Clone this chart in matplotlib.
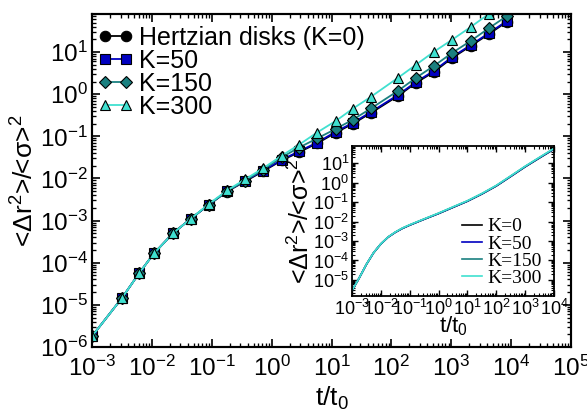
import matplotlib
matplotlib.use('Agg')
import matplotlib.pyplot as plt
from matplotlib.ticker import LogLocator, NullFormatter

plt.rcParams['font.family'] = ['Liberation Sans', 'DejaVu Sans']
plt.rcParams['mathtext.fontset'] = 'custom'
plt.rcParams['mathtext.rm'] = 'Liberation Sans'
plt.rcParams['mathtext.it'] = 'Liberation Sans:italic'
plt.rcParams['mathtext.bf'] = 'Liberation Sans:bold'

# main panel: simulation points
t = [0.001, 0.00316, 0.0061, 0.0108, 0.0225, 0.045, 0.090, 0.180, 0.359, 0.718,
     1.49, 2.86, 5.73, 11.9, 22.9, 45.7, 129, 258, 515, 1028, 2138, 4266, 8531]
msd_k0 = [1.8e-6, 1.45e-5, 5.6e-5, 1.66e-4, 5.0e-4, 1.12e-3, 2.4e-3, 4.9e-3, 8.5e-3, 1.48e-2,
          2.7e-2, 4.2e-2, 6.8e-2, 0.123, 0.20, 0.36, 0.91, 1.86, 3.4, 7.2, 14.1, 26.9, 52.5]
msd_k50 = [1.8e-6, 1.45e-5, 5.6e-5, 1.66e-4, 5.0e-4, 1.12e-3, 2.4e-3, 5.0e-3, 8.8e-3, 1.53e-2,
           2.8e-2, 4.4e-2, 7.1e-2, 0.13, 0.21, 0.38, 0.96, 1.95, 3.6, 7.6, 14.8, 28.3, 55]
msd_k150 = [1.8e-6, 1.45e-5, 5.6e-5, 1.66e-4, 5.0e-4, 1.12e-3, 2.4e-3, 5.0e-3, 8.9e-3, 1.62e-2,
            3.2e-2, 5.4e-2, 8.9e-2, 0.151, 0.25, 0.46, 1.20, 2.45, 4.7, 9.5, 18.6, 37, 72]
msd_k300 = [1.8e-6, 1.45e-5, 5.6e-5, 1.66e-4, 5.0e-4, 1.12e-3, 2.5e-3, 5.2e-3, 9.5e-3, 1.74e-2,
            3.5e-2, 6.3e-2, 0.123, 0.234, 0.457, 0.87, 2.45, 5.0, 10.2, 19.5, 39.8, 81, 162]

# inset: continuous curves
inset_t = [1e-3, 1.78e-3, 3.16e-3, 5.62e-3, 1e-2, 1.78e-2, 3.16e-2, 5.62e-2, 0.1, 0.316,
           1, 3.16, 10, 31.6, 100, 316, 1000, 3160, 10000]
inset_k0 = [2.8e-6, 1.26e-5, 6.3e-5, 2.5e-4, 7.1e-4, 1.58e-3, 2.8e-3, 4.5e-3, 6.6e-3, 1.32e-2,
            2.6e-2, 5.4e-2, 0.112, 0.263, 0.68, 2.1, 6.6, 19, 54]
inset_k50 = [2.8e-6, 1.26e-5, 6.3e-5, 2.5e-4, 7.1e-4, 1.58e-3, 2.8e-3, 4.5e-3, 6.6e-3, 1.33e-2,
             2.62e-2, 5.45e-2, 0.113, 0.266, 0.69, 2.13, 6.7, 19.4, 55]
inset_k150 = [2.8e-6, 1.26e-5, 6.3e-5, 2.5e-4, 7.1e-4, 1.6e-3, 2.85e-3, 4.6e-3, 6.7e-3, 1.35e-2,
              2.68e-2, 5.6e-2, 0.116, 0.273, 0.71, 2.2, 6.9, 20, 57]
inset_k300 = [2.8e-6, 1.27e-5, 6.4e-5, 2.55e-4, 7.2e-4, 1.62e-3, 2.9e-3, 4.7e-3, 6.9e-3, 1.38e-2,
              2.75e-2, 5.75e-2, 0.119, 0.28, 0.73, 2.26, 7.1, 20.6, 59]

labels = ['Hertzian disks (K=0)', 'K=50', 'K=150', 'K=300']
inset_labels = ['K=0', 'K=50', 'K=150', 'K=300']
colors = ['black', '#0000c0', '#1a8080', '#40e0d0']
markers = ['o', 's', 'D', '^']
msizes = [7.5, 6.5, 6, 7.5]


def style(a, major, minor, width, size):
    a.set_xscale('log')
    a.set_yscale('log')
    for axis in (a.xaxis, a.yaxis):
        axis.set_major_locator(LogLocator(base=10, numticks=30))
        axis.set_minor_locator(LogLocator(base=10, subs=range(2, 10), numticks=30))
        axis.set_minor_formatter(NullFormatter())
    a.tick_params(which='both', direction='in', top=True, right=True, labelsize=size)
    a.tick_params(which='major', length=major, width=width)
    a.tick_params(which='minor', length=minor, width=width * 0.8)
    for s in a.spines.values():
        s.set_linewidth(width * 1.3)


fig = plt.figure(figsize=(5.87, 4.13), dpi=100)
ax = fig.add_axes([92 / 587, 1 - 347 / 413, 479 / 587, 333 / 413])
for y, lab, c, m, ms in zip([msd_k0, msd_k50, msd_k150, msd_k300], labels, colors, markers, msizes):
    ax.plot(t, y, color=c, lw=1.3, marker=m, ms=ms, mfc=c, mec='black', mew=0.8, label=lab)
style(ax, 6, 3, 1.2, 17.5)
ax.set_xlim(1e-3, 1e5)
ax.set_ylim(1e-6, 80)
ax.tick_params(axis='x', pad=6)
ax.tick_params(axis='y', pad=3)
ax.set_xlabel('t/t$_0$', fontsize=19, labelpad=3)
ax.set_ylabel('<Δr$^2$>/<σ>$^2$', fontsize=19, labelpad=1)
ax.legend(loc='upper left', bbox_to_anchor=(0.0115, 0.965), frameon=False, numpoints=2,
          fontsize=18, handlelength=1.45, handletextpad=0.2, labelspacing=-0.04,
          borderaxespad=0, borderpad=0)

ins = fig.add_axes([352 / 587, 1 - 296 / 413, 202 / 587, 150 / 413])
for y, lab, c in zip([inset_k0, inset_k50, inset_k150, inset_k300], inset_labels, colors):
    ins.plot(inset_t, y, color=c, lw=1.2, label=lab)
style(ins, 4, 2, 1.0, 13)
ins.set_xlim(1e-3, 1e4)
ins.set_ylim(1.48e-6, 78)
ins.tick_params(axis='both', pad=2)
ins.set_xlabel('t/t$_0$', fontsize=16, labelpad=-3)
ins.set_ylabel('<Δr$^2$>/<σ>$^2$', fontsize=18, labelpad=-1)
ins.legend(loc='lower right', bbox_to_anchor=(0.94, 0.06), frameon=False,
           handlelength=1.0, handletextpad=0.3, labelspacing=-0.02,
           borderaxespad=0, borderpad=0,
           prop={'family': 'Liberation Serif', 'size': 14})

fig.savefig('out.png', dpi=100)
